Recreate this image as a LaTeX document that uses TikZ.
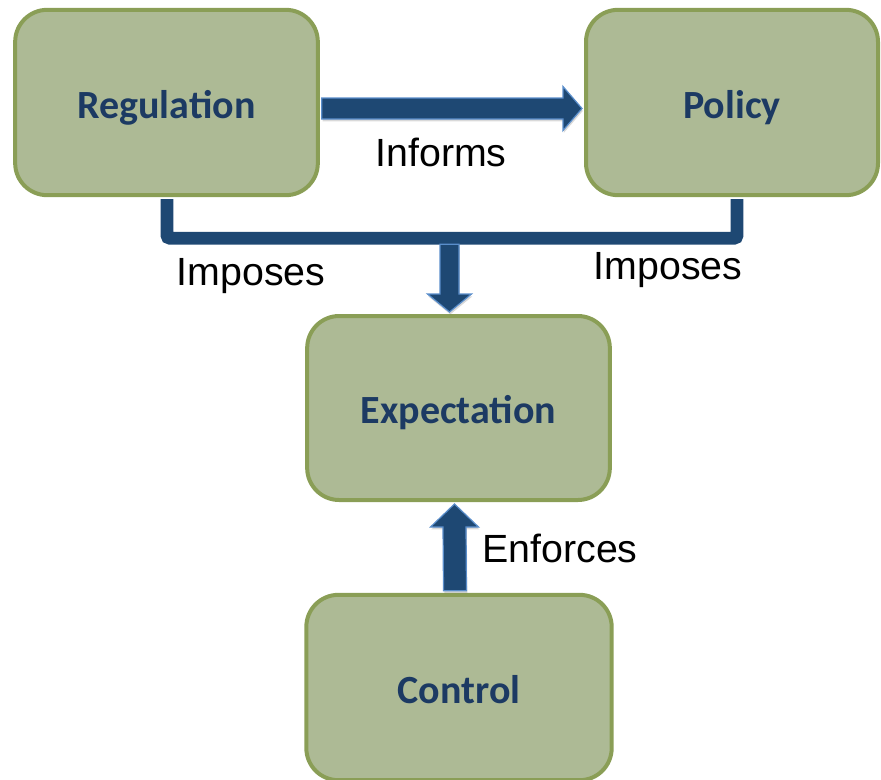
\documentclass[tikz,border=0pt]{standalone}
\usepackage{fontspec}
\setmainfont{Liberation Sans}
\newfontfamily\boxfont{Carlito}
\usetikzlibrary{calc,shadows}

\definecolor{boxfill}{HTML}{ADBA95}
\definecolor{boxedge}{HTML}{8A9E56}
\definecolor{boxtext}{HTML}{1C3A63}
\definecolor{flowblue}{HTML}{1E4873}
\definecolor{flowedge}{HTML}{5A8ECB}

\tikzset{
  stage/.style={draw=boxedge, fill=boxfill, line width=3pt, rounded corners=24pt,
    text=boxtext, font=\boxfont\bfseries\fontsize{30}{33}\selectfont,
    text height=23.5pt, text depth=0pt},
  flow/.style={fill=flowblue, draw=flowedge, line width=0.9pt,
    drop shadow={opacity=0.3, shadow xshift=0.6pt, shadow yshift=-1.8pt}},
  bracket/.style={draw=flowblue, line width=9.5pt, rounded corners=2pt,
    preaction={draw=black, opacity=0.25, transform canvas={shift={(0.6pt,-1.8pt)}}}},
  verb/.style={font=\fontsize{29.5}{32}\selectfont}
}

\begin{document}
\begin{tikzpicture}[x=0.75pt,y=0.75pt]
  \useasboundingbox (0,0) rectangle (881,-779);

  % the four boxes
  \node[stage, minimum width=227pt, minimum height=139pt] (reg) at (166.5,-102.5) {Regulation};
  \node[stage, minimum width=219pt, minimum height=139pt] (pol) at (732,-102.5) {Policy};
  \node[stage, minimum width=227pt, minimum height=138pt] (exp) at (458.5,-408) {Expectation};
  \node[stage, minimum width=229pt, minimum height=139pt] (ctl) at (459,-687.5) {Control};

  % regulation -> policy
  \coordinate (infA) at ($(reg.east)+(2,-6)$);
  \coordinate (infB) at ($(pol.west)+(-2,-6)$);
  \path[flow] ($(infA)+(0,10.5)$) -- ($(infB)+(-19,10.5)$) -- ($(infB)+(-19,22)$)
    -- (infB) -- ($(infB)+(-19,-22)$) -- ($(infB)+(-19,-10.5)$)
    -- ($(infA)+(0,-10.5)$) -- cycle;
  \node[verb] (informs) at (441,-152) {Informs};

  % both impose on the expectation
  \path[bracket] ($(reg.south)+(0.5,-2)$) -- ++(0,-39) coordinate (barL)
    -| ($(pol.south)+(5,-2)$);
  \coordinate (impB) at ($(exp.north)+(-9,2)$);
  \coordinate (impA) at (impB |- barL);
  \path[flow] ($(impA)+(-9.5,-6)$) -- ($(impB)+(-9.5,18)$) -- ($(impB)+(-22,18)$)
    -- (impB) -- ($(impB)+(22,18)$) -- ($(impB)+(9.5,18)$)
    -- ($(impA)+(9.5,-6)$) -- cycle;
  \node[verb] (imposesL) at (251,-276) {Imposes};
  \node[verb] (imposesR) at (668,-270) {Imposes};

  % control -> expectation
  \coordinate (enfA) at ($(ctl.north)+(-4,2)$);
  \coordinate (enfB) at ($(exp.south)+(-4,-2)$);
  \path[flow] ($(enfA)+(-11.5,0)$) -- ($(enfB)+(-11.5,-23)$) -- ($(enfB)+(-24,-23)$)
    -- (enfB) -- ($(enfB)+(24,-23)$) -- ($(enfB)+(11.5,-23)$)
    -- ($(enfA)+(11.5,0)$) -- cycle;
  \node[verb] (enforces) at (560,-548) {Enforces};
\end{tikzpicture}
\end{document}
